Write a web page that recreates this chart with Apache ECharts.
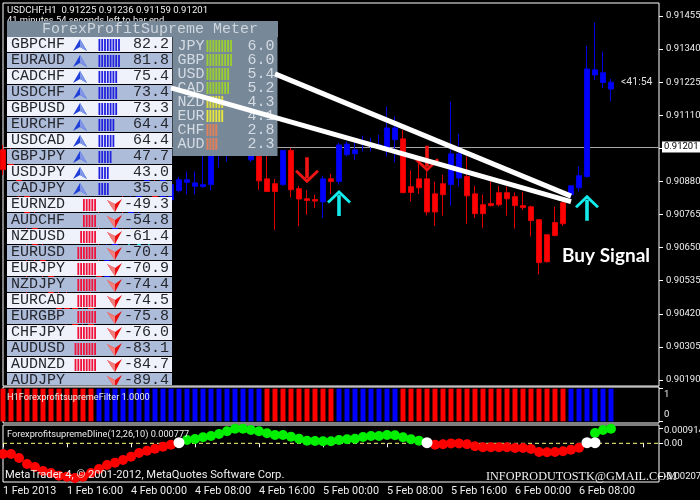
<!DOCTYPE html>
<html>
<head>
<meta charset="utf-8">
<style>html,body{margin:0;padding:0;background:#000;}#c{width:700px;height:500px;}</style>
<script src="https://cdn.jsdelivr.net/npm/echarts@6/dist/echarts.min.js"></script>
</head>
<body>
<div id="c"></div>
<script>
// ---- data ----
const xTickLabels = ["1 Feb 2013","1 Feb 16:00","4 Feb 00:00","4 Feb 08:00","4 Feb 16:00","5 Feb 00:00","5 Feb 08:00","5 Feb 16:00","6 Feb 00:00","6 Feb 08:00"];
const priceTicks = [0.91455,0.91340,0.91225,0.91110,0.90995,0.90880,0.90765,0.90650,0.90535,0.90420,0.90305,0.90190];
const lastPrice = 0.91201;
// open, close, low, high (bars at the left lie under the table and are only glimpsed)
const candles = [
[.90990,.90921,.90903,.91007],[.90973,.90921,.90900,.91025],[.90921,.90830,.90817,.90938],[.90830,.90764,.90487,.90851],
[.90764,.90643,.90591,.90799],[.90643,.90567,.90522,.90678],[.90567,.90483,.90452,.90602],[.90483,.90435,.90407,.90522],
[.90476,.90417,.90383,.90504],[.90469,.90365,.90331,.90487],[.90428,.90393,.90358,.90452],[.90469,.90365,.90338,.90497],
[.90601,.90522,.90494,.90775],[.90539,.90643,.90504,.90695],[.90643,.90730,.90626,.90764],[.90764,.90720,.90716,.90830],
[.90720,.90799,.90695,.90834],[.90789,.90851,.90764,.90879],[.90844,.90903,.90830,.90938],[.90851,.90817,.90796,.90886],
[.90824,.90886,.90810,.90921],[.90816,.90869,.90799,.90893],
[.90848,.90886,.90841,.90896],[.90877,.90886,.90834,.90915],[.90863,.90875,.90834,.90915],[.90862,.90869,.90858,.90973],
[.90869,.90990,.90849,.91007],[.90997,.91025,.90928,.91059],[.91007,.91042,.90949,.91077],[.91042,.91007,.90983,.91066],
[.91007,.90983,.90973,.91032],[.90955,.90997,.90948,.91025],[.90967,.90882,.90851,.90990],[.90889,.90845,.90845,.90973],
[.90872,.90845,.90712,.90889],[.90869,.90988,.90865,.90990],[.90988,.90851,.90825,.90997],[.90855,.90819,.90724,.90865],
[.90820,.90814,.90764,.90849],[.90817,.90812,.90788,.90834],[.90809,.90889,.90753,.90900],[.90889,.90880,.90837,.90907],
[.90880,.91007,.90869,.91014],[.90973,.91010,.90967,.91019],[.90976,.90990,.90955,.91019],[.91014,.91021,.90983,.91039],
[.91004,.91011,.90984,.91033],[.91001,.91007,.90997,.91042],[.90990,.91066,.90967,.91140],[.91025,.91066,.90945,.91106],
[.91028,.90841,.90841,.91059],[.90862,.90842,.90811,.90918],[.90889,.90858,.90837,.90949],[.90889,.90774,.90762,.90921],
[.90837,.90774,.90726,.90880],[.90872,.90834,.90761,.90903],[.90869,.90976,.90796,.91158],[.90892,.90976,.90861,.91046],
[.90897,.90830,.90733,.90967],[.90837,.90768,.90753,.90865],[.90799,.90768,.90719,.90834],[.90803,.90796,.90793,.90886],
[.90841,.90799,.90793,.90865],[.90841,.90820,.90761,.90862],[.90827,.90796,.90716,.90842],[.90796,.90789,.90782,.90844],
[.90792,.90744,.90689,.90796],[.90747,.90598,.90556,.90747],[.90695,.90601,.90598,.90695],[.90737,.90692,.90689,.90792],
[.90806,.90733,.90726,.90817],[.90834,.90865,.90823,.90865],[.90858,.90900,.90845,.90932],[.90897,.91271,.90893,.91352],
[.91250,.91268,.91233,.91432],[.91224,.91258,.91205,.91331],[.91201,.91225,.91159,.91236]
];
const downArrows = [[38,.90919],[53,.90959]];
const upArrows = [[17,.90660],[42,.90805],[73,.90789]];
const trendLineUpper = [[34,.91254],[71,.90829]];
const trendLineLower = [[21,.91205],[71,.90810]];

const filterRuns = "rrrrrrrrrrrrbbbbbbbbbbbbbbbbbbbbbrrrrrrrrrbbbbbbbbrrrrrrrrrrrrrrrrrrrrrbbbbbb";
const dlineValues = [
-.000669,-.000669,-.000919,-.001294,-.001481,-.001731,-.001856,-.002025,-.002088,-.002169,-.002088,-.001856,-.001606,-.001356,
-.001213,-.001044,-.000838,-.000606,-.000463,-.000338,-.000213,-.000088,null,.000206,.000269,.000375,.000456,.000581,.00075,
.000913,.000913,.000831,.00075,.000625,.000519,.000519,.000413,.000288,.000163,.000144,.000125,.000125,.000206,.00025,.000288,
.000394,.000456,.000456,.000519,.0005,.000375,.00025,.000163,null,-.000088,-.000063,-.000005,-.000005,-.000063,-.000188,-.00025,
-.00025,-.00025,-.00025,-.000294,-.000294,-.000356,-.000544,-.000563,-.000544,-.0005,-.0004,-.000275,null,.000644,.000831,.000913
];
const dlineCross = [[22,.000038],[53,.000038],[73,.000038],[74,.000038]];
const dlineTicks = [-0.00207,0,0.000914];
const dlineLabelSpots = [-0.00207,0,0.00077];
const dlineTickLabels = ["-0.00207","0.00","0.000914"];

const pairNames = ["GBPCHF","EURAUD","CADCHF","USDCHF","GBPUSD","EURCHF","USDCAD","GBPJPY","USDJPY","CADJPY","EURNZD","AUDCHF","NZDUSD","EURUSD","EURJPY","NZDJPY","EURCAD","EURGBP","CHFJPY","AUDUSD","AUDNZD","AUDJPY"];
const pairValues = [82.2,81.8,75.4,73.4,73.3,64.4,64.4,47.7,43.0,35.6,-49.3,-54.8,-61.4,-70.4,-70.9,-74.4,-74.5,-75.8,-76.0,-83.1,-84.7,-89.4];
const pairStripes = [8,8,7,7,7,6,6,5,4,4,5,5,6,7,7,7,7,7,7,8,8,0];
const currencyNames = ["JPY","GBP","USD","CAD","NZD","EUR","CHF","AUD"];
const currencyValues = [6.0,6.0,5.4,5.2,4.3,4.1,2.8,2.3];
const currencyStripes = [9,9,8,8,6,6,4,4];
const currencyColors = ["#9acd32","#9acd32","#9acd32","#9acd32","#dcdc3c","#e6e63c","#e0805a","#e0805a"];

// ---- presentation ----
const MONO = '"Liberation Mono","DejaVu Sans Mono",monospace';
const SANS = 'Roboto,"Noto Sans",sans-serif';
const categories = [];
for (let i = 0; i < 83; i++) categories.push(i % 8 === 0 && xTickLabels[i / 8] ? xTickLabels[i / 8] : '');
const UP_ARROW = 'path://M10.2 5V26H13.8V5ZM12 0L24 11.5L22 13.5L12 4L2 13.5L0 11.5Z';

function hiddenX(gridIndex, showLabels) {
  return {
    type: 'category', gridIndex, data: categories, boundaryGap: false, containShape: false,
    axisLine: {show: false}, splitLine: {show: false},
    axisTick: {show: !!showLabels, interval: 7, length: 4, lineStyle: {color: '#fff'}, inside: false},
    axisLabel: {show: !!showLabels, interval: 7, align: 'left', margin: 4, color: '#eee', fontFamily: SANS, fontSize: 10.8, hideOverlap: false}
  };
}

function renderPair(params, api) {
  const i = params.dataIndex;
  const tl = api.coord([0, i]);
  const br = api.coord([165, i + 1]);
  const h = br[1] - tl[1];
  const val = pairValues[i];
  const cy = tl[1] + (h - 1) / 2;
  const children = [{
    type: 'rect', shape: {x: tl[0], y: tl[1], width: br[0] - tl[0], height: h - 1},
    style: {fill: i % 2 ? '#adbdd9' : '#eff1fb'}
  }, {
    type: 'text', style: {text: pairNames[i], x: tl[0] + 4, y: cy, fill: '#26262e', font: '15px ' + MONO, verticalAlign: 'middle', align: 'left'}
  }, {
    type: 'text', style: {text: val.toFixed(1), x: br[0] - 3, y: cy, fill: '#26262e', font: '15px ' + MONO, verticalAlign: 'middle', align: 'right'}
  }];
  const top = tl[1];
  const n = pairStripes[i];
  for (let k = 0; k < n; k++) {
    const x = val > 0 ? tl[0] + 91.5 + k * 2.8 : tl[0] + 89 - (k + 1) * 2.8 + 1;
    children.push({type: 'rect', shape: {x, y: top + 2, width: 1.8, height: 12},
      style: {fill: val > 0 ? '#2222dd' : '#f0143c'}});
  }
  if (val > 0) {
    const c = tl[0] + 73;
    children.push({type: 'polygon', shape: {points: [[c, top + 2], [c - 7, top + 14], [c, top + 10], [c + 7, top + 14]]}, style: {fill: '#2040d8'}});
    children.push({type: 'polygon', shape: {points: [[c, top + 2], [c + 7, top + 14], [c, top + 10]]}, style: {fill: '#7f96e8'}});
  } else {
    const c = tl[0] + 108;
    children.push({type: 'polygon', shape: {points: [[c - 8, top + 3], [c, top + 7], [c + 7, top + 2], [c, top + 15]]}, style: {fill: '#e81010'}});
    children.push({type: 'polygon', shape: {points: [[c - 8, top + 3], [c, top + 7], [c, top + 15]]}, style: {fill: '#f08080'}});
  }
  return {type: 'group', children};
}

function renderCurrency(params, api) {
  const i = params.dataIndex;
  const cy = api.coord([0, i + 0.64])[1];
  const l = api.coord([0, 0]);
  const r = api.coord([105, 8.5]);
  const children = [];
  if (i === 0) children.push({type: 'rect', shape: {x: l[0], y: l[1], width: r[0] - l[0], height: r[1] - l[1]}, style: {fill: '#778899'}, z2: -1});
  children.push({type: 'text', style: {text: currencyNames[i], x: l[0] + 5, y: cy, fill: '#d4dae2', font: '15px ' + MONO, verticalAlign: 'middle', align: 'left'}});
  children.push({type: 'text', style: {text: currencyValues[i].toFixed(1), x: r[0] - 3, y: cy, fill: '#d4dae2', font: '15px ' + MONO, verticalAlign: 'middle', align: 'right'}});
  for (let k = 0; k < currencyStripes[i]; k++) {
    children.push({type: 'rect', shape: {x: l[0] + 34 + k * 2.95, y: cy - 6, width: 1.9, height: 12}, style: {fill: currencyColors[i]}});
  }
  return {type: 'group', children};
}

function label(text, x, y, font, fill, z) {
  return {type: 'text', z: z, silent: true,
    style: {text, x, y, fill, font, verticalAlign: 'middle', align: 'left'}};
}

const chart = echarts.init(document.getElementById('c'), null, {renderer: 'canvas'});
chart.setOption({
  animation: false,
  backgroundColor: '#000',
  grid: [
    {left: 3, top: 3, width: 656, height: 383, show: true, borderColor: '#fff', borderWidth: 1, backgroundColor: '#000', outerBoundsMode: 'none'},
    {left: 3, top: 387, width: 656, height: 36, show: true, borderColor: '#fff', borderWidth: 1, backgroundColor: '#000', outerBoundsMode: 'none'},
    {left: 3, top: 425, width: 656, height: 57, show: true, borderColor: '#fff', borderWidth: 1, backgroundColor: '#000', outerBoundsMode: 'none'},
    {left: 7, top: 37, width: 165, height: 348, outerBoundsMode: 'none'},
    {left: 172.5, top: 37, width: 105, height: 119, outerBoundsMode: 'none'}
  ],
  xAxis: [
    hiddenX(0), hiddenX(1), hiddenX(2, true),
    {type: 'value', gridIndex: 3, min: 0, max: 165, show: false},
    {type: 'value', gridIndex: 4, min: 0, max: 105, show: false}
  ],
  yAxis: [
    {type: 'value', gridIndex: 0, position: 'right', min: 0.901692, max: 0.915001, scale: true,
      splitLine: {show: false}, axisLine: {show: false},
      axisTick: {show: true, length: 4, lineStyle: {color: '#fff'}, customValues: priceTicks},
      axisLabel: {color: '#eee', fontFamily: SANS, fontSize: 9.5, margin: 7, customValues: priceTicks, formatter: v => v.toFixed(5)}},
    {type: 'value', gridIndex: 1, position: 'right', min: -0.05, max: 1.05,
      splitLine: {show: false}, axisLine: {show: false},
      axisTick: {show: true, length: 4, lineStyle: {color: '#fff'}, customValues: [0, 1]},
      axisLabel: {color: '#eee', fontFamily: SANS, fontSize: 9.5, margin: 5, customValues: [0.195, 0.805],
        formatter: v => v > 0.5 ? '1' : '0'}},
    {type: 'value', gridIndex: 2, position: 'right', min: -0.002419, max: 0.001144,
      splitLine: {show: false}, axisLine: {show: false},
      axisTick: {show: true, length: 4, lineStyle: {color: '#fff'}, customValues: dlineTicks},
      axisLabel: {color: '#eee', fontFamily: SANS, fontSize: 9.5, margin: 5, customValues: dlineLabelSpots,
        formatter: v => dlineTickLabels[dlineLabelSpots.indexOf(v)]}},
    {type: 'value', gridIndex: 3, min: 0, max: 21.75, inverse: true, show: false},
    {type: 'value', gridIndex: 4, min: 0, max: 8.5, inverse: true, show: false}
  ],
  series: [
    {type: 'candlestick', xAxisIndex: 0, yAxisIndex: 0, data: candles, barWidth: 5, z: 2,
      itemStyle: {color: '#0000ff', color0: '#ff0000', borderColor: '#0000e0', borderColor0: '#e00000', borderWidth: 1},
      markLine: {silent: true, symbol: 'none', animation: false, z: 1,
        lineStyle: {color: '#a8a8a8', width: 1, type: 'solid'},
        label: {show: true, position: 'end', distance: 3, color: '#000', backgroundColor: '#fff', padding: [1, 2, 0, 2],
          fontFamily: SANS, fontSize: 9.5, formatter: lastPrice.toFixed(5)},
        data: [{yAxis: lastPrice}]}},
    {type: 'scatter', xAxisIndex: 0, yAxisIndex: 0, data: downArrows, symbol: UP_ARROW, symbolRotate: 180,
      symbolSize: [24, 26], symbolKeepAspect: false, itemStyle: {color: '#f01414', opacity: 1}, z: 3},
    {type: 'scatter', xAxisIndex: 0, yAxisIndex: 0, data: upArrows, symbol: UP_ARROW,
      symbolSize: [24, 26], symbolKeepAspect: false, itemStyle: {color: '#14eaea', opacity: 1}, z: 3},
    {type: 'line', xAxisIndex: 0, yAxisIndex: 0, data: trendLineUpper, symbol: 'none', z: 8,
      lineStyle: {color: '#fff', width: 5}},
    {type: 'line', xAxisIndex: 0, yAxisIndex: 0, data: trendLineLower, symbol: 'none', z: 8,
      lineStyle: {color: '#fff', width: 5}},
    {type: 'bar', xAxisIndex: 1, yAxisIndex: 1, barWidth: 5, z: 2,
      data: filterRuns.split('').map(c => ({value: 1, itemStyle: {color: c === 'r' ? '#ff0000' : '#0000ff'}}))},
    {type: 'line', xAxisIndex: 2, yAxisIndex: 2, data: [[0, 0], [82, 0]], symbol: 'none', z: 1,
      lineStyle: {color: '#ffff80', width: 1, type: [4, 3]}},
    {type: 'scatter', xAxisIndex: 2, yAxisIndex: 2, symbolSize: 10, z: 2, clip: false,
      data: dlineValues.map((v, i) => v === null ? null : ({value: [i, v], itemStyle: {color: v < 0 ? '#ff0000' : '#00f000', opacity: 1}})).filter(Boolean)},
    {type: 'scatter', xAxisIndex: 2, yAxisIndex: 2, symbolSize: 11, z: 3, clip: false, data: dlineCross,
      itemStyle: {color: '#fff', opacity: 1}},
    {type: 'custom', xAxisIndex: 3, yAxisIndex: 3, coordinateSystem: 'cartesian2d', z: 5, clip: true,
      data: pairValues.map((v, i) => [0, i]), renderItem: renderPair},
    {type: 'custom', xAxisIndex: 4, yAxisIndex: 4, coordinateSystem: 'cartesian2d', z: 5,
      data: currencyValues.map((v, i) => [0, i]), renderItem: renderCurrency}
  ],
  graphic: {elements: [
    {type: 'rect', z: 4, silent: true, shape: {x: 7, y: 21, width: 271, height: 16}, style: {fill: '#778899'}},
    label('ForexProfitSupreme Meter', 42, 29, '15px ' + MONO, '#cfd5dc', 6),
    label('USDCHF,H1  0.91225 0.91236 0.91159 0.91201', 7, 10.5, '9.6px ' + SANS, '#eee', 3),
    label('41 minutes 54 seconds left to bar end', 7, 20.5, '9.4px ' + SANS, '#eee', 3),
    label('<41:54', 621, 82, '10.5px ' + SANS, '#ddd', 3),
    label('Buy Signal', 562, 256, 'bold 19px Lato,' + SANS, '#fff', 9),
    label('H1ForexprofitsupremeFilter 1.0000', 7, 397.5, '9.2px ' + SANS, '#eee', 9),
    label('ForexprofitsupremeDline(12,26,10) 0.000777', 7, 434.5, '9.2px ' + SANS, '#eee', 9),
    label('MetaTrader 4, © 2001-2012, MetaQuotes Software Corp.', 5, 475, '11.2px ' + SANS, '#eee', 9),
    label('INFOPRODUTOSTK@GMAIL.COM', 486, 476.5, '12.2px "Liberation Serif",serif', '#eee', 9)
  ]}
});
</script>
</body>
</html>
